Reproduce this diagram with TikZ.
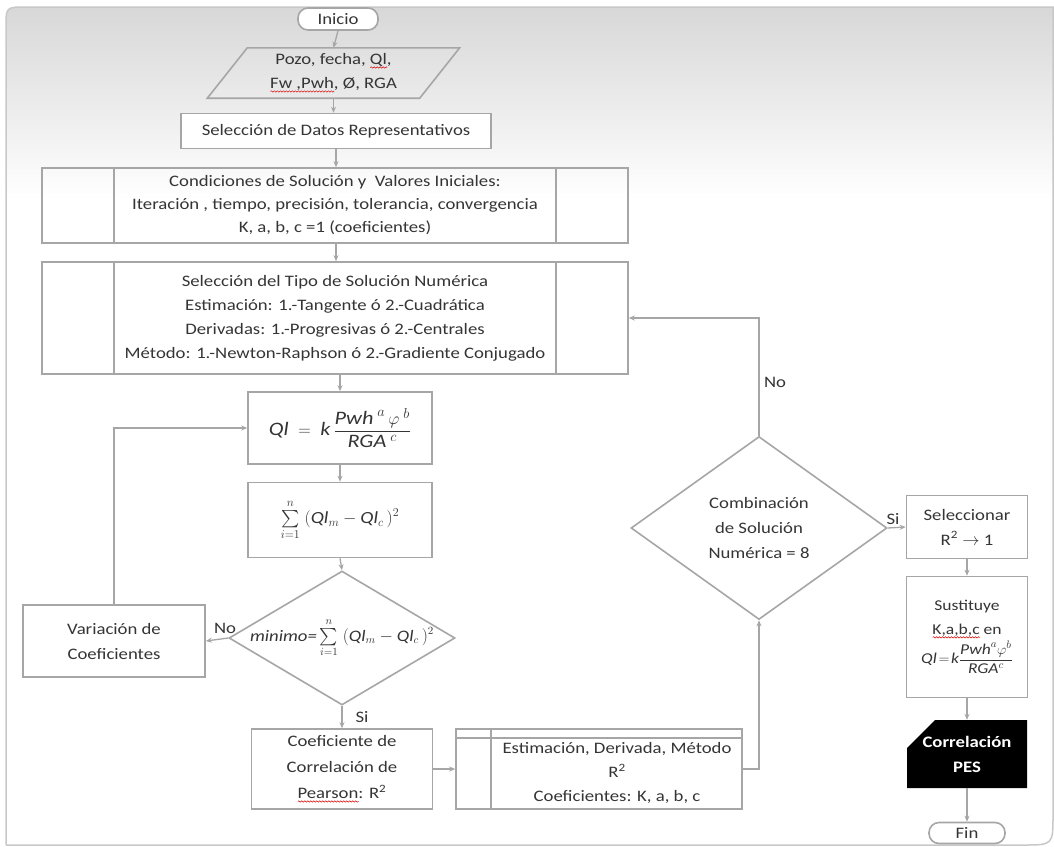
\documentclass[tikz,border=0pt]{standalone}
\usepackage{amsmath}
\usepackage{fontspec}
\setmainfont{Carlito}[FakeStretch=1.17]
\usetikzlibrary{arrows.meta,shapes.geometric,shapes.misc,calc,decorations.pathmorphing}
\definecolor{ln}{HTML}{A6A6A6}
\definecolor{tx}{HTML}{353535}
\definecolor{fr}{HTML}{C8C8C8}
\newdimen\sqw
\newcommand\redsq[1]{\setbox0\hbox{#1}\sqw=\wd0\rlap{\tikz[baseline=0pt]\draw[red!85!black, line width=0.5pt, decorate, decoration={snake, amplitude=0.7pt, segment length=3pt}] (0pt,-2.8pt) -- (\the\sqw,-2.8pt);}#1}
\tikzset{
  base/.style={font=\fontsize{16}{24}\selectfont, text=tx, align=center, inner sep=0pt},
  box/.style={base, draw=ln, line width=1.6pt, rectangle},
  term/.style={box, rounded corners=10pt},
  dia/.style={draw=ln, line width=1.6pt, diamond, inner sep=0pt},
  arr/.style={draw=ln, line width=1.3pt, -{Stealth[length=6pt,width=5pt]}},
  lbl/.style={base},
  frameline/.style={draw=fr, line width=1.5pt}
}
\begin{document}
\begin{tikzpicture}[x=1pt,y=-1pt]
\useasboundingbox (0,0) rectangle (1054,846);
% frame
\fill[white] (6,845) -- (6,27) .. controls (6,7) .. (26,7) -- (1053,7) -- (1053,815) .. controls (1053,845) .. (1023,845) -- cycle;
\begin{scope}
\clip (6,845) -- (6,27) .. controls (6,7) .. (26,7) -- (1053,7) -- (1053,815) .. controls (1053,845) .. (1023,845) -- cycle;
\shade[top color=black!16, bottom color=white] (0,0) rectangle (1054,200);
\end{scope}
\draw[frameline] (6,845) -- (6,27) .. controls (6,7) .. (26,7) -- (1053,7) -- (1053,815) .. controls (1053,845) .. (1023,845) -- (6,845);

% nodes
\node[term, minimum width=80, minimum height=22, fill=white] (inicio) at (338,19) {Inicio};
\node[base, minimum width=212, minimum height=50] (datos) at (333.5,73) {Pozo, fecha, \redsq{Ql},\\\redsq{Fw ,Pwh}, Ø, RGA};
\draw[draw=ln, line width=1.6pt] ($(datos.south west)+(-20,0)$) -- ($(datos.south east)+(-20,0)$) -- ($(datos.north east)+(20,0)$) -- ($(datos.north west)+(20,0)$) -- cycle;
\node[box, minimum width=310, minimum height=35, fill=white] (sel) at (336,131) {Selección de Datos Representativos};
\node[box, minimum width=586, minimum height=75, font=\fontsize{16}{23}\selectfont] (cond) at (335,205.5) {Condiciones de Solución y \ Valores Iniciales:\\Iteración , tiempo, precisión, tolerancia, convergencia\\K, a, b, c =1 (coeficientes)};
\draw[draw=ln, line width=1.6pt] ($(cond.north west)+(73,0)$) -- ($(cond.south west)+(73,0)$);
\draw[draw=ln, line width=1.6pt] ($(cond.north east)+(-73,0)$) -- ($(cond.south east)+(-73,0)$);
\node[box, minimum width=586, minimum height=112] (tipo) at (335,318) {Selección del Tipo de Solución Numérica\\Estimación: 1.-Tangente ó 2.-Cuadrática\\Derivadas: 1.-Progresivas ó 2.-Centrales\\Método: 1.-Newton-Raphson ó 2.-Gradiente Conjugado};
\draw[draw=ln, line width=1.6pt] ($(tipo.north west)+(73,0)$) -- ($(tipo.south west)+(73,0)$);
\draw[draw=ln, line width=1.6pt] ($(tipo.north east)+(-73,0)$) -- ($(tipo.south east)+(-73,0)$);

\node[box, minimum width=184, minimum height=72, font=\fontsize{19}{24}\selectfont] (ql) at (340,428) {$\textit{Ql} \;=\; \textit{k}\,\dfrac{\textit{Pwh}^{\;a}\,\varphi^{\;b}}{\textit{RGA}^{\;c}}$};
\node[box, minimum width=184, minimum height=75, font=\fontsize{17}{24}\selectfont] (sum) at (340,520) {$\sum\limits_{i=1}^{n}\;(\textit{Ql}_{m}-\textit{Ql}_{c}\,)^{2}$};
\node[dia, minimum width=226, minimum height=134, label={[base, font=\fontsize{16}{24}\selectfont]center:{$\textit{minimo=}\sum\limits_{i=1}^{n}\;(\textit{Ql}_{m}-\textit{Ql}_{c}\,)^{2}$}}] (min) at (342,638) {};
\node[box, minimum width=182, minimum height=72, font=\fontsize{16}{25}\selectfont] (var) at (114,641) {Variación de\\Coeficientes};
\node[box, minimum width=181, minimum height=80, font=\fontsize{16}{26}\selectfont] (coef) at (342,769) {Coeficiente de\\Correlación de\\\redsq{Pearson}: R\textsuperscript{2}};
\node[box, minimum width=286, minimum height=80] (est) at (599,769) {};
\draw[draw=ln, line width=1.6pt] ($(est.north west)+(36,0)$) -- ($(est.south west)+(36,0)$);
\draw[draw=ln, line width=1.6pt] ($(est.north west)+(0,10)$) -- ($(est.north east)+(0,10)$);
\node[lbl, font=\fontsize{16}{24}\selectfont] (esttxt) at (617,773) {Estimación, Derivada, Método\\R\textsuperscript{2}\\Coeficientes: K, a, b, c};
\node[dia, minimum width=256, minimum height=183, label={[base, font=\fontsize{16}{25}\selectfont]center:{Combinación\\de Solución\\Numérica = 8}}] (comb) at (759,528) {};
\node[box, minimum width=121, minimum height=63, font=\fontsize{16}{25}\selectfont] (selR) at (967,527) {Seleccionar\\R\textsuperscript{2} $\rightarrow$ 1};
\node[box, minimum width=121, minimum height=121, font=\fontsize{15}{24}\selectfont] (sust) at (967,637) {Sustituye\\\redsq{K,a,b,c} en\\[2pt]$\textit{Ql}\!=\!\textit{k}\dfrac{\textit{Pwh}^{a}\varphi^{b}}{\textit{RGA}^{c}}$};
\node[base, chamfered rectangle, chamfered rectangle corners=north west, chamfered rectangle xsep=14pt, chamfered rectangle ysep=14pt, fill=black, text=white, minimum width=120, minimum height=68, font=\fontsize{16}{25}\selectfont\bfseries] (pes) at (967,754) {Correlación\\PES};
\node[term, minimum width=76, minimum height=21] (fin) at (967,833) {Fin};

% connectors
\draw[arr] (inicio.south) -- (datos.north);
\draw[arr] (datos.south) -- (datos.south |- sel.north);
\draw[arr] (sel.south) -- (sel.south |- cond.north);
\draw[arr] (sel.south |- cond.south) -- (sel.south |- tipo.north);
\draw[arr] (ql.north |- tipo.south) -- (ql.north);
\draw[arr] (ql.south) -- (sum.north);
\draw[arr] (sum.south) -- (min.north);
\draw[arr] (min.west) -- (var.east);
\draw[arr] (var.north) |- (ql.west);
\draw[arr] (min.south) -- (coef.north);
\draw[arr] (coef.east) -- (est.west);
\draw[arr] (est.east) -| (comb.south);
\draw[arr] (comb.north) |- (tipo.east);
\draw[arr] (comb.east) -- (selR.west);
\draw[arr] (selR.south) -- (sust.north);
\draw[arr] (sust.south) -- (pes.north);
\draw[arr] (pes.south) -- (fin.north);

% labels
\node[lbl] (no1) at (225,628) {No};
\node[lbl] (si1) at (362,717) {Si};
\node[lbl] (no2) at (775,382) {No};
\node[lbl] (si2) at (893,519) {Si};
\end{tikzpicture}
\end{document}
